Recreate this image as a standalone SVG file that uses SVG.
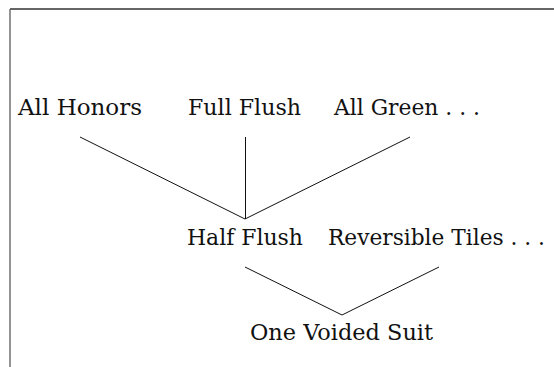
<svg xmlns="http://www.w3.org/2000/svg" width="554" height="367" viewBox="0 0 554 367">
  <style>
    .lbl { font-family: "DejaVu Serif", "Liberation Serif", serif; font-size: 22.5px; fill: #111; }
    .edge { stroke: #111; stroke-width: 1; fill: none; }
    .frame { fill: none; stroke-width: 1.4; }
  </style>
  <rect width="554" height="367" fill="#fff"/>
  <g id="frame">
    <line class="frame" x1="10" y1="9" x2="554" y2="9" stroke="#333"/>
    <line class="frame" x1="10" y1="9" x2="10" y2="367" stroke="#666"/>
  </g>
  <g id="connectors">
    <line class="edge" x1="80" y1="137" x2="245" y2="219"/>
    <line class="edge" x1="245.5" y1="137" x2="245.5" y2="219"/>
    <line class="edge" x1="410" y1="137" x2="245" y2="219"/>
    <line class="edge" x1="245" y1="267" x2="342" y2="315"/>
    <line class="edge" x1="439" y1="267" x2="342" y2="315"/>
  </g>
  <g id="all-honors"><text class="lbl" x="18" y="115" textLength="124" lengthAdjust="spacingAndGlyphs">All Honors</text></g>
  <g id="full-flush"><text class="lbl" x="188" y="115" textLength="113" lengthAdjust="spacingAndGlyphs">Full Flush</text></g>
  <g id="all-green"><text class="lbl" x="334" y="115" textLength="146" lengthAdjust="spacingAndGlyphs">All Green . . .</text></g>
  <g id="half-flush"><text class="lbl" x="187" y="244.5" textLength="116" lengthAdjust="spacingAndGlyphs">Half Flush</text></g>
  <g id="reversible-tiles"><text class="lbl" x="328" y="244.5" textLength="217" lengthAdjust="spacingAndGlyphs">Reversible Tiles . . .</text></g>
  <g id="one-voided-suit"><text class="lbl" x="250" y="340" textLength="183" lengthAdjust="spacingAndGlyphs">One Voided Suit</text></g>
</svg>
